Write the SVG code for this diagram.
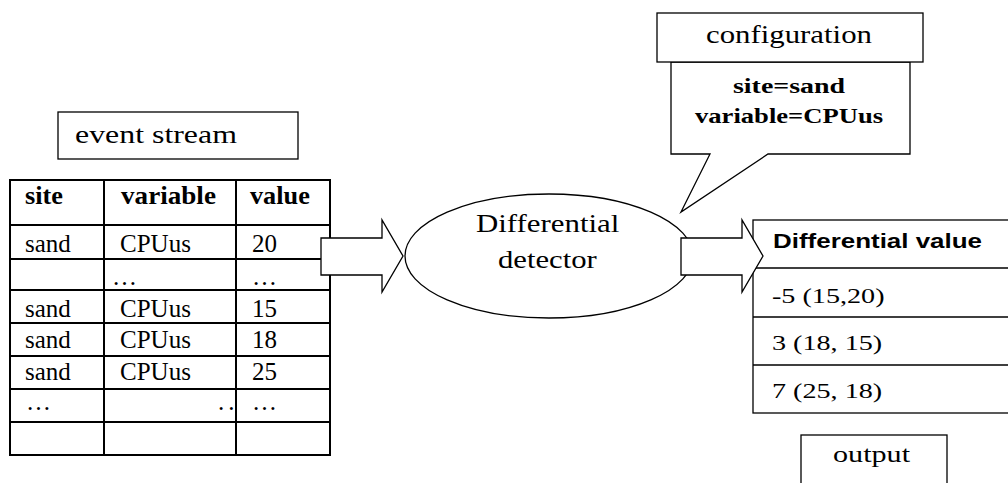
<svg xmlns="http://www.w3.org/2000/svg" width="1008" height="483" viewBox="0 0 1008 483">
  <style>
    .box { fill: #fff; stroke: #000; stroke-width: 1.3; }
    .grid { stroke: #000; stroke-width: 2; fill: none; }
    .thin { stroke: #000; stroke-width: 1.3; fill: none; }
    .serif { font-family: "Liberation Serif", "Times New Roman", serif; fill: #000; }
    .bold { font-weight: bold; }
    .sans { font-family: "Liberation Sans", Arial, sans-serif; font-weight: bold; fill: #000; }
  </style>
  <rect width="1008" height="483" fill="#fff"/>

  <!-- label above the input table -->
  <g id="event-stream-label">
    <rect class="box" x="58" y="112" width="240" height="47"/>
    <text class="serif" font-size="26" transform="translate(75 143) scale(1.226 1)">event stream</text>
  </g>

  <!-- input table -->
  <g id="event-table" font-size="25">
    <rect class="grid" x="10" y="180" width="320" height="275"/>
    <path class="grid" d="M104 180V455M236 180V455M10 225H330M10 259H330M10 290H330M10 323H330M10 356H330M10 389H330M10 422H330"/>
    <g class="serif bold">
      <text transform="translate(25 204) scale(1.05 1)">site</text>
      <text transform="translate(121 204) scale(1.086 1)">variable</text>
      <text transform="translate(250 204) scale(1.05 1)">value</text>
    </g>
    <g class="serif">
      <text x="25" y="252">sand</text><text x="120" y="252">CPUus</text><text x="252" y="252">20</text>
      <text x="112" y="285">…</text><text x="252" y="285">…</text>
      <text x="25" y="317">sand</text><text x="120" y="317">CPUus</text><text x="252" y="317">15</text>
      <text x="25" y="348">sand</text><text x="120" y="348">CPUus</text><text x="252" y="348">18</text>
      <text x="25" y="380">sand</text><text x="120" y="380">CPUus</text><text x="252" y="380">25</text>
      <text x="26" y="410">…</text>
      <text x="218" y="410" letter-spacing="4">..</text>
      <text x="252" y="410">…</text>
    </g>
  </g>

  <!-- detector -->
  <g id="detector">
    <ellipse class="box" cx="549" cy="256" rx="144" ry="62"/>
    <text class="serif" font-size="26" transform="translate(476 232) scale(1.187 1)">Differential</text>
    <text class="serif" font-size="26" transform="translate(498 268) scale(1.18 1)">detector</text>
  </g>

  <!-- configuration callout -->
  <g id="configuration">
    <polygon class="box" points="671,62 671,154 710,154 681,212 768,154 910,154 910,62"/>
    <rect class="box" x="657" y="13" width="266" height="49"/>
    <text class="serif" font-size="26" transform="translate(706 43) scale(1.185 1)">configuration</text>
    <text class="serif bold" font-size="22" transform="translate(733 93) scale(1.27 1)">site=sand</text>
    <text class="serif bold" font-size="22" transform="translate(695 123) scale(1.21 1)">variable=CPUus</text>
  </g>

  <!-- output table -->
  <g id="output-table">
    <rect class="box" x="753" y="220" width="270" height="193"/>
    <path class="thin" d="M753 268H1010M753 317H1010M753 365H1010"/>
    <text class="sans" font-size="21" transform="translate(773 248) scale(1.236 1)">Differential value</text>
    <text class="serif" font-size="22" transform="translate(772 303) scale(1.28 1)">-5 (15,20)</text>
    <text class="serif" font-size="22" transform="translate(772 350) scale(1.28 1)">3 (18, 15)</text>
    <text class="serif" font-size="22" transform="translate(772 398) scale(1.28 1)">7 (25, 18)</text>
  </g>

  <!-- label below the output table -->
  <g id="output-label">
    <rect class="box" x="801" y="435" width="146" height="60"/>
    <text class="serif" font-size="24" transform="translate(833 462) scale(1.256 1)">output</text>
  </g>

  <!-- block arrows -->
  <g id="connectors">
    <polygon class="box" points="321,238 382,238 382,220 403,256 382,292 382,275 321,275"/>
    <polygon class="box" points="681,238 742,238 742,220 763,256 742,292 742,275 681,275"/>
  </g>
</svg>
